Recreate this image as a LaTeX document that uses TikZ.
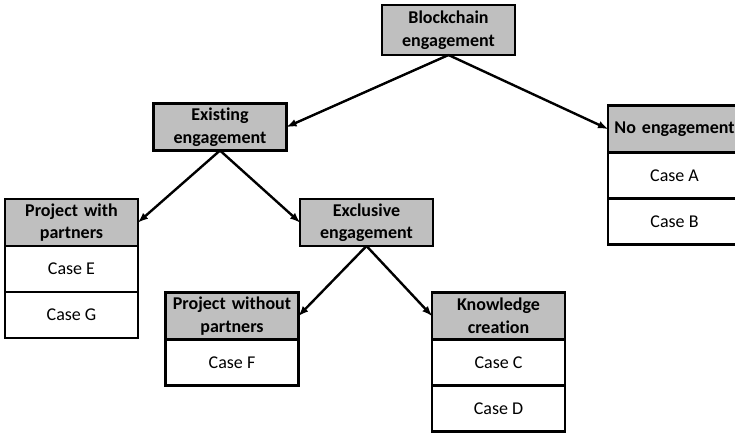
\documentclass[tikz,border=0pt]{standalone}
\usepackage{fontspec}
\setmainfont{Carlito}[Ligatures=NoCommon]
\usetikzlibrary{positioning}
\definecolor{headgray}{RGB}{191,191,191}
\begin{document}
\begin{tikzpicture}[x=1pt, y=1pt, >=latex,
		head/.style={draw, line width=2.2pt, fill=headgray, font=\bfseries,
			text width=130pt, align=center, minimum width=133pt,
			minimum height=47pt, inner sep=0pt, outer sep=0pt},
		casebox/.style={draw, line width=2.2pt, fill=white, minimum width=133pt,
			minimum height=46pt, inner sep=0pt, outer sep=0pt},
		link/.style={->, line width=2.4pt}]
	\useasboundingbox (0,0) rectangle (735,-435);
	\clip (0,0) rectangle (735,-435);
	\fontsize{18}{22.5}\selectfont
	% decision nodes
	\node [head, minimum height=50pt] (blk) at (448.5,-30) {Blockchain\\engagement};
	\node [head] (exist) at (220,-127) {Existing\\engagement};
	\node [head] (noeng) at (674.5,-129) {No engagement};
	\node [head] (withp) at (71.5,-222.5) {Project with\\partners};
	\node [head] (excl) at (366.5,-222.5) {Exclusive\\engagement};
	\node [head] (withoutp) at (232,-316) {Project without\\partners};
	\node [head] (know) at (498.5,-316) {Knowledge\\creation};
	% cases
	\node [casebox, below=0pt of noeng] (caseA) {Case A};
	\node [casebox, below=0pt of caseA] (caseB) {Case B};
	\node [casebox, below=0pt of withp] (caseE) {Case E};
	\node [casebox, below=0pt of caseE] (caseG) {Case G};
	\node [casebox, below=0pt of withoutp] (caseF) {Case F};
	\node [casebox, below=0pt of know] (caseC) {Case C};
	\node [casebox, below=0pt of caseC] (caseD) {Case D};
	% arrows
	\draw[link] (blk.south) -- (exist.east);
	\draw[link] (blk.south) -- (noeng.west);
	\draw[link] (exist.south) -- (withp.east);
	\draw[link] (exist.south) -- (excl.west);
	\draw[link] (excl.south) -- (withoutp.east);
	\draw[link] (excl.south) -- (know.west);
\end{tikzpicture}
\end{document}
